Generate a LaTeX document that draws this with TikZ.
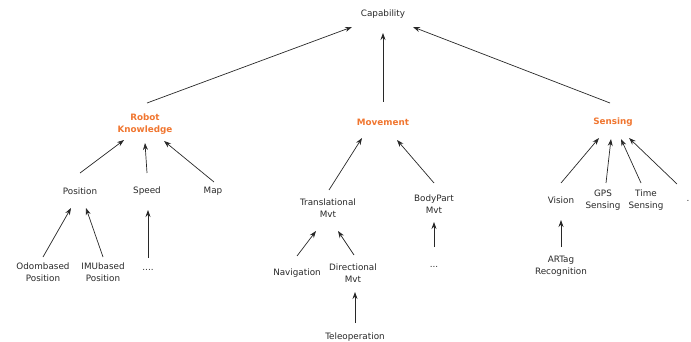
\documentclass[tikz,border=0pt]{standalone}
\usepackage{fontspec}
\setmainfont{DejaVu Sans}
\usetikzlibrary{arrows.meta,calc}
\definecolor{catorange}{RGB}{240,118,48}
\definecolor{inkgray}{RGB}{40,40,40}
\tikzset{
  item/.style={font=\fontsize{8.8}{12}\selectfont, text=inkgray, align=center, inner sep=0pt},
  category/.style={item, font=\fontsize{8.8}{12}\selectfont\bfseries, text=catorange},
  arr/.style={draw=inkgray, line width=0.7pt, -{Stealth[length=7pt,width=5pt]}}
}
\begin{document}
\begin{tikzpicture}[x=1pt,y=-1pt]
\useasboundingbox (0,0) rectangle (691,342);
% root
\node[item] (cap) at (383,14) {Capability};
% categories
\node[category] (rk) at (145,124) {Robot\\Knowledge};
\node[category] (mov) at (383,122) {Movement};
\node[category] (sen) at (613,122) {Sensing};
% robot knowledge subtree
\node[item] (pos) at (80,191) {Position};
\node[item] (spd) at (147,191) {Speed};
\node[item] (map) at (213,191) {Map};
\node[item] (odo) at (43,272) {Odombased\\Position};
\node[item] (imu) at (103,272) {IMUbased\\Position};
\node[item] (spdx) at (148,270) {....};
% movement subtree
\node[item] (tra) at (328,208) {Translational\\Mvt};
\node[item] (bod) at (434,204) {BodyPart\\Mvt};
\node[item] (nav) at (297,273) {Navigation};
\node[item] (dir) at (353,273) {Directional\\Mvt};
\node[item] (bodx) at (434,267) {...};
\node[item] (tel) at (355,337) {Teleoperation};
% sensing subtree
\node[item] (vis) at (561,200) {Vision};
\node[item] (gps) at (603,200) {GPS\\Sensing};
\node[item] (tim) at (646,200) {Time\\Sensing};
\node[item] (senx) at (688,201) {.};
\node[item] (art) at (561,266) {ARTag\\Recognition};
% edges to root
\draw[arr] ($(rk)+(2,-21)$) -- ($(cap)+(-31,13)$);
\draw[arr] ($(mov)+(0,-20)$) -- ($(cap)+(0,19)$);
\draw[arr] ($(sen)+(-3,-19)$) -- ($(cap)+(30,13)$);
% robot knowledge edges
\draw[arr] ($(pos)+(0,-18)$) -- ($(rk)+(-21,16)$);
\draw[arr] ($(spd)+(0,-18)$) -- ($(rk)+(0,19)$);
\draw[arr] ($(map)+(1,-9)$) -- ($(rk)+(19,17)$);
\draw[arr] ($(odo)+(0,-15)$) -- ($(pos)+(-9,17)$);
\draw[arr] ($(imu)+(0,-15)$) -- ($(pos)+(6,17)$);
\draw[arr] ($(spdx)+(0,-12)$) -- ($(spd)+(1,19)$);
% movement edges
\draw[arr] ($(tra)+(1,-18)$) -- ($(mov)+(-21,16)$);
\draw[arr] ($(bod)+(0,-21)$) -- ($(mov)+(14,18)$);
\draw[arr] ($(nav)+(0,-17)$) -- ($(tra)+(-12,23)$);
\draw[arr] ($(dir)+(1,-18)$) -- ($(tra)+(10,23)$);
\draw[arr] ($(tel)+(0,-14)$) -- ($(dir)+(2,19)$);
\draw[arr] ($(bodx)+(0,-20)$) -- ($(bod)+(0,18)$);
% sensing edges
\draw[arr] ($(vis)+(0,-17)$) -- ($(sen)+(-14,16)$);
\draw[arr] ($(gps)+(3,-17)$) -- ($(sen)+(-2,17)$);
\draw[arr] ($(tim)+(-5,-17)$) -- ($(sen)+(8,17)$);
\draw[arr] ($(senx)+(-11,-17)$) -- ($(sen)+(16,16)$);
\draw[arr] ($(art)+(0,-19)$) -- ($(vis)+(0,20)$);
\end{tikzpicture}
\end{document}
